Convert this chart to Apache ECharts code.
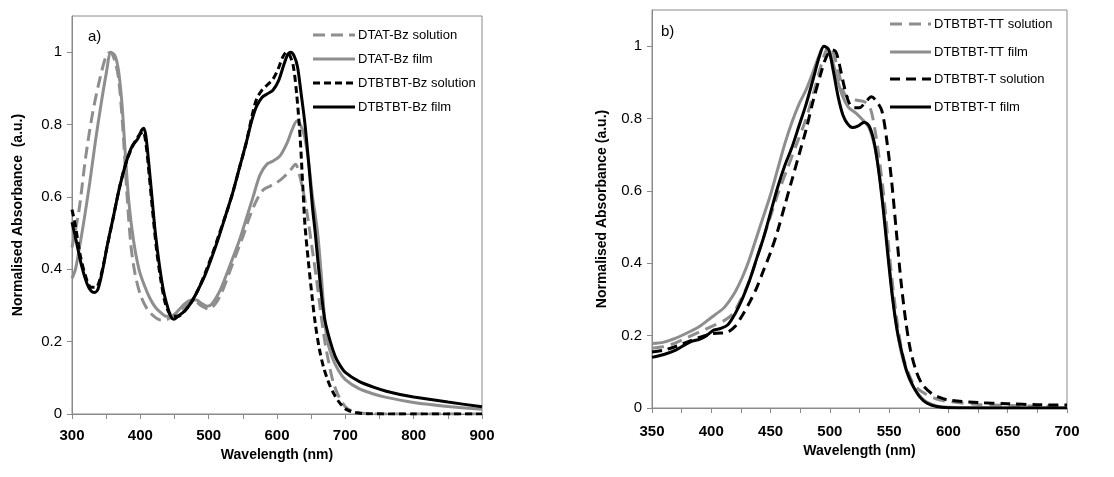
<!DOCTYPE html>
<html>
<head>
<meta charset="utf-8">
<script src="https://cdn.jsdelivr.net/npm/echarts@6/dist/echarts.min.js"></script>
<style>
html,body{margin:0;padding:0;background:#fff;}
#chart{width:1114px;height:477px;}
</style>
</head>
<body>
<div id="chart"></div>
<script>
// ---------- Panel a) ----------
const aXTicks = [300, 400, 500, 600, 700, 800, 900];
const yTicks = [0, 0.2, 0.4, 0.6, 0.8, 1];

const dtatSolWl = [300,310,320,330,340,350,356,362,368,374,380,386,392,400,410,420,430,440,450,460,470,480,490,500,510,520,530,540,550,560,570,580,590,600,610,620,627,633,640,646,652,658,664,670,676,682,690,700,710,725,740,800,900];
const dtatSolAbs = [0.46,0.56,0.71,0.83,0.92,0.99,1.0,0.98,0.93,0.80,0.62,0.47,0.39,0.33,0.29,0.27,0.26,0.262,0.275,0.29,0.305,0.31,0.298,0.29,0.305,0.34,0.39,0.44,0.49,0.545,0.59,0.62,0.63,0.64,0.655,0.675,0.69,0.66,0.60,0.53,0.45,0.37,0.28,0.20,0.14,0.09,0.05,0.02,0.008,0.002,0.0,0.0,0.0];

const dtatFilmWl = [300,305,310,318,326,334,342,350,357,363,368,373,378,383,390,398,406,414,422,430,438,446,455,465,475,482,490,498,505,515,525,535,545,555,565,575,585,595,605,615,622,629,634,640,646,652,656,660,665,669,673,680,690,700,720,740,760,800,850,900];
const dtatFilmAbs = [0.375,0.40,0.45,0.54,0.64,0.75,0.85,0.94,1.0,0.99,0.95,0.86,0.72,0.59,0.48,0.40,0.355,0.32,0.295,0.28,0.27,0.27,0.285,0.305,0.315,0.315,0.305,0.298,0.305,0.335,0.38,0.43,0.48,0.54,0.60,0.66,0.69,0.70,0.715,0.75,0.785,0.81,0.80,0.77,0.70,0.60,0.55,0.49,0.38,0.28,0.21,0.16,0.12,0.095,0.07,0.056,0.046,0.032,0.021,0.013];

const dtbtSolWl = [300,305,312,320,328,335,342,350,360,370,380,390,398,404,408,413,418,424,430,436,442,448,455,465,475,485,495,505,515,525,535,545,555,563,570,578,586,594,602,608,614,619,624,629,634,638,641,646,651,656,662,668,675,682,692,702,715,730,800,900];
const dtbtSolAbs = [0.565,0.52,0.44,0.38,0.35,0.35,0.38,0.45,0.54,0.63,0.70,0.745,0.77,0.78,0.75,0.66,0.56,0.45,0.37,0.31,0.28,0.27,0.27,0.285,0.31,0.345,0.39,0.44,0.495,0.55,0.61,0.68,0.75,0.82,0.87,0.895,0.91,0.925,0.955,0.985,1.0,0.99,0.96,0.88,0.76,0.62,0.52,0.42,0.33,0.25,0.18,0.13,0.09,0.06,0.03,0.012,0.004,0.001,0.0,0.0];

const dtbtFilmWl = [300,306,314,322,328,333,338,345,352,360,370,380,388,396,402,405,408,412,417,422,428,434,440,445,449,455,465,475,485,495,505,515,525,535,545,555,563,570,578,586,594,602,610,616,620,625,630,635,641,647,652,656,660,665,670,678,685,692,700,720,740,760,780,800,850,900];
const dtbtFilmAbs = [0.53,0.48,0.41,0.36,0.34,0.336,0.345,0.40,0.47,0.54,0.63,0.70,0.74,0.76,0.785,0.79,0.77,0.70,0.60,0.50,0.41,0.34,0.295,0.268,0.262,0.27,0.285,0.31,0.345,0.385,0.435,0.49,0.55,0.61,0.68,0.75,0.81,0.85,0.875,0.885,0.895,0.92,0.965,0.995,1.0,0.99,0.96,0.89,0.80,0.68,0.57,0.50,0.42,0.33,0.26,0.20,0.16,0.135,0.115,0.09,0.075,0.063,0.054,0.047,0.033,0.02];

// ---------- Panel b) ----------
const bXTicks = [350, 400, 450, 500, 550, 600, 650, 700];

const ttSolWl = [350,360,370,380,390,400,410,418,425,432,440,448,456,464,472,480,487,492,497,500,504,508,512,517,524,530,534,538,542,546,550,554,558,562,567,572,580,590,600,625,650,700];
const ttSolAbs = [0.165,0.17,0.18,0.195,0.21,0.225,0.24,0.26,0.30,0.35,0.43,0.51,0.59,0.66,0.73,0.80,0.88,0.94,0.99,1.0,0.97,0.92,0.87,0.855,0.85,0.845,0.83,0.77,0.68,0.57,0.43,0.31,0.21,0.14,0.09,0.06,0.04,0.025,0.018,0.01,0.007,0.004];

const ttFilmWl = [350,360,370,380,390,400,410,415,420,426,432,438,444,450,456,462,468,474,480,486,491,495,499,503,507,511,516,522,528,533,538,542,546,550,554,558,562,567,572,580,590,600,650,700];
const ttFilmAbs = [0.178,0.182,0.193,0.208,0.225,0.25,0.275,0.295,0.32,0.36,0.41,0.47,0.53,0.59,0.66,0.73,0.79,0.84,0.88,0.93,0.975,1.0,0.99,0.95,0.90,0.86,0.83,0.815,0.795,0.775,0.72,0.64,0.53,0.40,0.28,0.19,0.13,0.08,0.05,0.02,0.006,0.002,0.0,0.0];

const tSolWl = [350,360,370,380,390,400,408,414,420,426,432,438,444,450,456,462,468,474,480,486,492,497,502,505,508,512,516,520,525,530,535,540,544,548,552,556,560,564,568,573,578,585,592,600,625,650,675,700];
const tSolAbs = [0.155,0.16,0.17,0.183,0.195,0.205,0.207,0.21,0.225,0.255,0.29,0.33,0.38,0.43,0.49,0.56,0.63,0.70,0.77,0.85,0.92,0.97,0.99,0.985,0.95,0.89,0.845,0.83,0.83,0.845,0.86,0.845,0.82,0.74,0.63,0.49,0.35,0.24,0.16,0.10,0.065,0.042,0.03,0.022,0.015,0.012,0.009,0.008];

const tFilmWl = [350,360,370,378,384,390,396,402,408,414,420,426,432,438,444,450,456,462,468,474,480,486,491,495,499,503,507,511,515,519,524,529,533,537,541,545,549,553,557,561,565,570,576,582,590,600,650,700];
const tFilmAbs = [0.14,0.148,0.16,0.175,0.185,0.19,0.20,0.215,0.22,0.23,0.26,0.30,0.35,0.41,0.47,0.54,0.61,0.67,0.72,0.78,0.84,0.91,0.97,1.0,0.99,0.93,0.86,0.81,0.785,0.775,0.78,0.79,0.78,0.74,0.66,0.55,0.42,0.30,0.21,0.15,0.10,0.062,0.03,0.013,0.004,0.001,0.0,0.0];

// ---------- build ----------
const GRAY = '#8e8e8e';
const AXIS = '#8a8a8a';
const FONT = '"Liberation Sans", Arial, sans-serif';

const aStyles = [
  {name:'DTAT-Bz solution', color:GRAY, dash:[12,6]},
  {name:'DTAT-Bz film', color:GRAY, dash:null},
  {name:'DTBTBT-Bz solution', color:'#000', dash:[7,4]},
  {name:'DTBTBT-Bz film', color:'#000', dash:null}
];
const bStyles = [
  {name:'DTBTBT-TT solution', color:GRAY, dash:[12,7]},
  {name:'DTBTBT-TT film', color:GRAY, dash:null},
  {name:'DTBTBT-T solution', color:'#000', dash:[10,6]},
  {name:'DTBTBT-T film', color:'#000', dash:null}
];

function pairs(xs, ys){ return xs.map((x,i)=>[x, ys[i]]); }
function line(st, xs, ys, gi){
  return {
    type:'line', name:st.name, data:pairs(xs,ys), xAxisIndex:gi, yAxisIndex:gi,
    symbol:'none', smooth:0.3, silent:true, animation:false,
    lineStyle:{color:st.color, width:3, type:st.dash||'solid', cap:'butt'},
    itemStyle:{color:st.color}
  };
}
function xAxis(gi, min, max, tickStep, labels, nameGap, labelMargin){
  return {
    type:'value', gridIndex:gi, min, max, interval:tickStep,
    name:'Wavelength (nm)', nameLocation:'middle', nameGap,
    nameTextStyle:{fontFamily:FONT, fontSize:14, fontWeight:'bold', color:'#000'},
    axisLine:{lineStyle:{color:AXIS, width:1}},
    axisTick:{show:true, length:5, lineStyle:{color:AXIS}},
    axisLabel:{customValues:labels, fontFamily:FONT, fontSize:15, fontWeight:'bold', color:'#000', margin:labelMargin},
    splitLine:{show:false}
  };
}
function yAxis(gi, name, nameGap){
  return {
    type:'value', gridIndex:gi, min:0, max:1.1,
    name, nameLocation:'middle', nameGap,
    nameTextStyle:{fontFamily:FONT, fontSize:14, fontWeight:'bold', color:'#000'},
    axisLine:{show:true, lineStyle:{color:AXIS, width:1}},
    axisTick:{show:true, length:5, customValues:yTicks, lineStyle:{color:AXIS}},
    axisLabel:{customValues:yTicks, fontFamily:FONT, fontSize:15, color:'#000', margin:10,
      formatter:v=>String(+(+v).toFixed(1))},
    splitLine:{show:false}
  };
}
// hand-drawn legend (line sample + text)
function legendItems(styles, x0, x1, rows){
  const out = [];
  styles.forEach((st,i)=>{
    out.push({type:'line', silent:true,
      shape:{x1:x0, y1:rows[i], x2:x1, y2:rows[i]},
      style:{stroke:st.color, lineWidth:3, lineDash:st.dash||null}});
    out.push({type:'text', silent:true, x:x1+3, y:rows[i],
      style:{text:st.name, font:'13px '+FONT, fill:'#000', textVerticalAlign:'middle', verticalAlign:'middle'}});
  });
  return out;
}

const chart = echarts.init(document.getElementById('chart'), null, {renderer:'canvas'});
chart.setOption({
  animation:false,
  backgroundColor:'#fff',
  grid:[
    {left:72, top:16, width:410, height:398, show:true, borderColor:AXIS, borderWidth:1, containLabel:false},
    {left:652, top:10, width:415, height:398, show:true, borderColor:AXIS, borderWidth:1, containLabel:false}
  ],
  xAxis:[
    xAxis(0, 300, 900, 50, aXTicks, 31, 14),
    xAxis(1, 350, 700, 25, bXTicks, 33, 16)
  ],
  yAxis:[
    yAxis(0, 'Normalised Absorbance  (a.u.)', 47),
    yAxis(1, 'Normalised Absorbance (a.u.)', 43)
  ],
  graphic:[
    {type:'text', left:88, top:29, style:{text:'a)', font:'15px '+FONT, fill:'#000'}},
    {type:'text', left:661, top:24, style:{text:'b)', font:'15px '+FONT, fill:'#000'}}
  ].concat(legendItems(aStyles, 313, 355, [35,59,83,107]))
   .concat(legendItems(bStyles, 890, 931, [24,52,79,107])),
  series:[
    line(aStyles[0], dtatSolWl, dtatSolAbs, 0),
    line(aStyles[1], dtatFilmWl, dtatFilmAbs, 0),
    line(aStyles[2], dtbtSolWl, dtbtSolAbs, 0),
    line(aStyles[3], dtbtFilmWl, dtbtFilmAbs, 0),
    line(bStyles[0], ttSolWl, ttSolAbs, 1),
    line(bStyles[1], ttFilmWl, ttFilmAbs, 1),
    line(bStyles[2], tSolWl, tSolAbs, 1),
    line(bStyles[3], tFilmWl, tFilmAbs, 1)
  ]
});
</script>
</body>
</html>
